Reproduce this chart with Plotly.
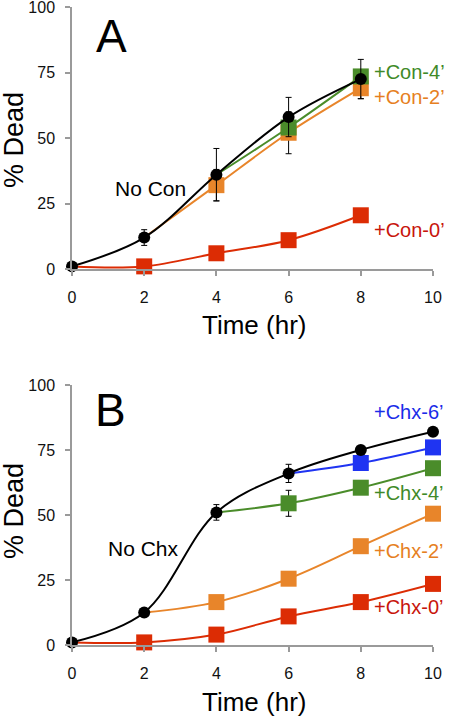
import plotly.graph_objects as go

# ---------------- Data ----------------
time_ticks = [0, 2, 4, 6, 8, 10]
y_ticks = [0, 25, 50, 75, 100]

# Panel A
a_nocon_t = [0, 2, 4, 6, 8]
a_nocon_v = [1, 12, 36, 58, 72.5]
a_nocon_err = [0, 3, 10, 7.5, 7.5]
a_con4_t = [4, 6, 8]
a_con4_v = [36, 54, 73.5]
a_con2_t = [2, 4, 6, 8]
a_con2_v = [12, 32, 52, 69]
a_con2_err = [0, 6, 8, 4]
a_con0_t = [0, 2, 4, 6, 8]
a_con0_v = [1, 1, 6, 11, 20.5]

# Panel B
b_nochx_t = [0, 2, 4, 6, 8, 10]
b_nochx_v = [1, 12.5, 51, 66, 75, 82]
b_nochx_err = [0, 0, 3, 3.5, 0, 0]
b_chx6_t = [6, 8, 10]
b_chx6_v = [66, 70, 76]
b_chx4_t = [4, 6, 8, 10]
b_chx4_v = [51, 54.5, 60.5, 68]
b_chx4_err = [0, 5, 0, 0]
b_chx2_t = [2, 4, 6, 8, 10]
b_chx2_v = [12.5, 16.5, 25.5, 38, 50.5]
b_chx0_t = [0, 2, 4, 6, 8, 10]
b_chx0_v = [1, 1, 4, 11, 16.5, 23.5]

BLACK = "#000000"
GREEN = "#4a8c2a"
ORANGE = "#e8852a"
RED = "#dc2c04"
BLUE = "#1f34f2"
GREEN_T = "#3f8a28"
ORANGE_T = "#e67f22"
RED_T = "#c8150c"
BLUE_T = "#1a2ce8"

W, H = 450, 718
FONT = "Liberation Sans, Arial, Helvetica, sans-serif"

fig = go.Figure()


def sq(t, v, color, xa, ya, err=None):
    # line through all points (first point branches off the black curve)
    fig.add_trace(go.Scatter(
        x=t, y=v, xaxis=xa, yaxis=ya, mode="lines",
        line=dict(color=color, width=2, shape="spline"),
        cliponaxis=False, showlegend=False, hoverinfo="skip",
    ))
    tr = go.Scatter(
        x=t[1:], y=v[1:], xaxis=xa, yaxis=ya, mode="markers",
        marker=dict(symbol="square", size=16, color=color, opacity=1,
                    line=dict(width=0)),
        cliponaxis=False, showlegend=False,
    )
    if err is not None:
        tr.error_y = dict(type="data", array=err[1:], visible=True,
                          color=BLACK, thickness=1, width=3)
    fig.add_trace(tr)


def circ(t, v, xa, ya, err=None):
    tr = go.Scatter(
        x=t, y=v, xaxis=xa, yaxis=ya, mode="lines+markers",
        line=dict(color=BLACK, width=2, shape="spline"),
        marker=dict(symbol="circle", size=12, color=BLACK, opacity=1),
        cliponaxis=False, showlegend=False,
    )
    if err is not None:
        tr.error_y = dict(type="data", array=err, visible=True,
                          color=BLACK, thickness=1, width=3)
    fig.add_trace(tr)


# Panel A (x, y)
sq(a_con0_t, a_con0_v, RED, "x", "y")
sq(a_con2_t, a_con2_v, ORANGE, "x", "y", a_con2_err)
sq(a_con4_t, a_con4_v, GREEN, "x", "y")
circ(a_nocon_t, a_nocon_v, "x", "y", a_nocon_err)

# Panel B (x2, y2)
sq(b_chx0_t, b_chx0_v, RED, "x2", "y2")
sq(b_chx2_t, b_chx2_v, ORANGE, "x2", "y2")
sq(b_chx4_t, b_chx4_v, GREEN, "x2", "y2", b_chx4_err)
sq(b_chx6_t, b_chx6_v, BLUE, "x2", "y2")
circ(b_nochx_t, b_nochx_v, "x2", "y2", b_nochx_err)

xdom = [72 / W, 433 / W]
ydomA = [1 - 269 / H, 1 - 7 / H]
ydomB = [1 - 645 / H, 1 - 385 / H]

axis_common = dict(
    showgrid=False, zeroline=False, showline=True, linecolor="#9a9a9a",
    linewidth=1.5, ticks="outside", ticklen=5, tickcolor="#9a9a9a",
    tickwidth=1.5, tickfont=dict(family=FONT, size=16, color="#111"),
    automargin=False, ticklabeloverflow="allow",
)

fig.update_layout(
    width=W, height=H, margin=dict(l=0, r=0, t=0, b=0),
    paper_bgcolor="white", plot_bgcolor="white",
    font=dict(family=FONT),
    xaxis=dict(domain=xdom, anchor="y", range=[0, 10], tickvals=time_ticks,
               ticklabelstandoff=8, **axis_common),
    yaxis=dict(domain=ydomA, anchor="x", range=[0, 100], tickvals=y_ticks,
               ticklabelstandoff=7, **axis_common),
    xaxis2=dict(domain=xdom, anchor="y2", range=[0, 10], tickvals=time_ticks,
                ticklabelstandoff=8, **axis_common),
    yaxis2=dict(domain=ydomB, anchor="x2", range=[0, 100], tickvals=y_ticks,
                ticklabelstandoff=7, **axis_common),
)


def ann(text, px, py, size, color=BLACK, xanchor="center", angle=0):
    fig.add_annotation(
        text=text, x=px / W, y=1 - py / H, xref="paper", yref="paper",
        showarrow=False, xanchor=xanchor, yanchor="middle", textangle=angle,
        font=dict(family=FONT, size=size, color=color),
    )


# Panel letters
ann("A", 111, 36, 46)
ann("B", 110, 410, 46)
# Axis titles
ann("% Dead", 14, 140, 27, angle=-90)
ann("% Dead", 14, 511, 27, angle=-90)
ann("Time (hr)", 254, 325, 26)
ann("Time (hr)", 254, 702, 26)
# Series labels A
ann("No Con", 150, 188, 21)
ann("+Con-4’", 372, 72, 20, GREEN_T, "left")
ann("+Con-2’", 372, 97, 20, ORANGE_T, "left")
ann("+Con-0’", 372, 230, 20, RED_T, "left")
# Series labels B
ann("No Chx", 143, 548, 21)
ann("+Chx-6’", 372, 412, 20, BLUE_T, "left")
ann("+Chx-4’", 372, 493, 20, GREEN_T, "left")
ann("+Chx-2’", 372, 551, 20, ORANGE_T, "left")
ann("+Chx-0’", 372, 607, 20, RED_T, "left")

# the page's default body margin would shift the figure by 8 px
fig.write_html("out.html", config={"displayModeBar": False},
               post_script="document.body.style.margin='0px';")
